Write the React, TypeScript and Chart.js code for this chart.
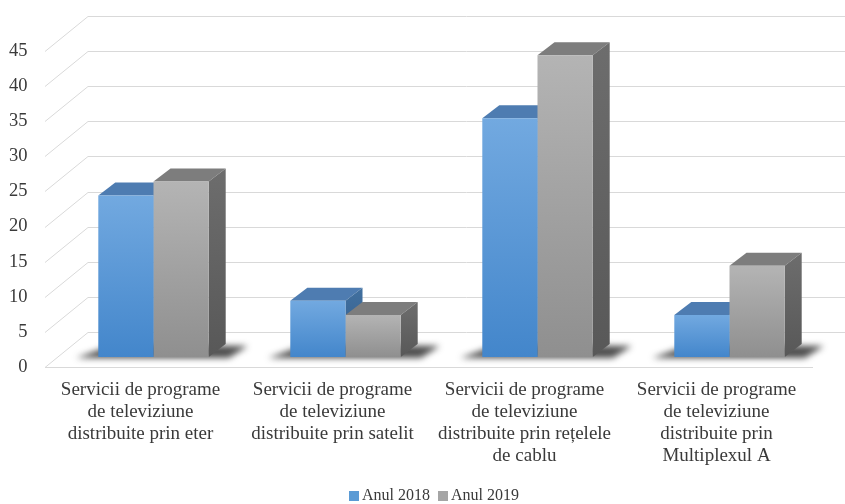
import React, { useEffect, useRef } from 'react';
import { Chart, registerables } from 'chart.js';

Chart.register(...registerables);

// ---------- data ----------
const categories: string[][] = [
  ['Servicii de programe', 'de televiziune', 'distribuite prin eter'],
  ['Servicii de programe', 'de televiziune', 'distribuite prin satelit'],
  ['Servicii de programe', 'de televiziune', 'distribuite prin rețelele', 'de cablu'],
  ['Servicii de programe', 'de televiziune', 'distribuite prin', 'Multiplexul A'],
];
const values2018 = [23, 8, 34, 6];
const values2019 = [25, 6, 43, 13];
const seriesNames = ['Anul 2018', 'Anul 2019'];
const yMin = 0;
const yMax = 45;
const yStep = 5;

// ---------- style ----------
const FONT = "'Liberation Serif', 'Times New Roman', serif";
const TEXT = '#3a3a3a';
const GRID = '#d9d9d9';

// 3D projection offsets (pixels)
const FRONT_DX = 12.5; // bar front plane relative to floor front edge
const FRONT_DY = 10;
const WALL_DX = 43; // full floor depth
const WALL_DY = 35;
const BAR_DX = 17; // bar depth
const BAR_DY = 13;

const LEGEND_CX = 434;
const LEGEND_Y = 496;

const palettes = [
  { front: ['#72a9e0', '#4386cb'], top: '#4e7cb1', side: ['#41709f', '#345c8a'], legend: '#5b9bd5' },
  { front: ['#b4b4b4', '#8f8f8f'], top: '#7d7d7d', side: ['#6d6d6d', '#585858'], legend: '#a5a5a5' },
];

const frontFill = (d: number) => (c: any) => {
  const p = palettes[d];
  if (c.type !== 'data') return p.legend;
  const chart = c.chart;
  const ys = chart.scales && chart.scales.y;
  if (!ys) return p.legend;
  const top = ys.getPixelForValue(c.raw);
  const base = ys.getPixelForValue(0);
  if (!isFinite(top) || !isFinite(base) || top === base) return p.legend;
  const g = chart.ctx.createLinearGradient(0, top, 0, base);
  g.addColorStop(0, p.front[0]);
  g.addColorStop(1, p.front[1]);
  return g;
};

const depthPlugin = {
  id: 'depth3d',
  beforeDatasetsDraw(chart: any) {
    const { ctx, chartArea, scales } = chart;
    const ys = scales.y;
    const left = chartArea.left - FRONT_DX;
    ctx.save();

    // side wall diagonals + back wall lines
    ctx.strokeStyle = GRID;
    ctx.lineWidth = 1;
    for (const t of ys.ticks) {
      const yf = Math.round(ys.getPixelForValue(t.value) + FRONT_DY) + 0.5;
      ctx.beginPath();
      ctx.moveTo(left, yf);
      ctx.lineTo(left + WALL_DX, yf - WALL_DY);
      ctx.lineTo(chart.width, yf - WALL_DY);
      ctx.stroke();
    }
    // floor front edge
    const y0 = Math.round(ys.getPixelForValue(0) + FRONT_DY) + 0.5;
    ctx.beginPath();
    ctx.moveTo(left, y0);
    ctx.lineTo(chartArea.right - FRONT_DX, y0);
    ctx.stroke();

    const metas = [chart.getDatasetMeta(0), chart.getDatasetMeta(1)];
    const n = chart.data.labels.length;

    // shadows
    ctx.filter = 'blur(3px)';
    ctx.fillStyle = 'rgba(35,35,35,0.8)';
    for (let i = 0; i < n; i++) {
      const a = metas[0].data[i].getProps(['x', 'width', 'base'], true);
      const b = metas[1].data[i].getProps(['x', 'width', 'base'], true);
      const l = a.x - a.width / 2;
      const r = b.x + b.width / 2;
      const base = a.base;
      ctx.beginPath();
      ctx.moveTo(l - 22, base + 1);
      ctx.lineTo(r + 20, base + 1);
      ctx.lineTo(r + BAR_DX + 22, base - BAR_DY + 2);
      ctx.lineTo(l + BAR_DX, base - BAR_DY);
      ctx.closePath();
      ctx.fill();
    }
    ctx.filter = 'none';

    // top and side faces
    for (let i = 0; i < n; i++) {
      for (let d = 0; d < metas.length; d++) {
        const el = metas[d].data[i].getProps(['x', 'y', 'width', 'base'], true);
        const p = palettes[d];
        const l = el.x - el.width / 2;
        const r = el.x + el.width / 2;
        const top = el.y;
        const base = el.base;
        // top face
        ctx.fillStyle = p.top;
        ctx.beginPath();
        ctx.moveTo(l, top);
        ctx.lineTo(r, top);
        ctx.lineTo(r + BAR_DX, top - BAR_DY);
        ctx.lineTo(l + BAR_DX, top - BAR_DY);
        ctx.closePath();
        ctx.fill();
        // side face
        const g = ctx.createLinearGradient(0, top - BAR_DY, 0, base);
        g.addColorStop(0, p.side[0]);
        g.addColorStop(1, p.side[1]);
        ctx.fillStyle = g;
        ctx.beginPath();
        ctx.moveTo(r, top);
        ctx.lineTo(r + BAR_DX, top - BAR_DY);
        ctx.lineTo(r + BAR_DX, base - BAR_DY);
        ctx.lineTo(r, base);
        ctx.closePath();
        ctx.fill();
      }
    }
    ctx.restore();
  },
  afterDraw(chart: any) {
    const { ctx } = chart;
    ctx.save();
    ctx.font = `16px ${FONT}`;
    ctx.textBaseline = 'middle';
    ctx.textAlign = 'left';
    const names = chart.data.datasets.map((ds: any) => ds.label);
    const widths = names.map((t: string) => ctx.measureText(t).width);
    const total = widths.reduce((s: number, w: number) => s + 13 + w, 0) + 8 * (names.length - 1);
    let x = LEGEND_CX - total / 2;
    names.forEach((t: string, k: number) => {
      ctx.fillStyle = palettes[k].legend;
      ctx.fillRect(Math.round(x), LEGEND_Y - 5, 10, 10);
      ctx.fillStyle = TEXT;
      ctx.fillText(t, x + 13, LEGEND_Y);
      x += 13 + widths[k] + 8;
    });
    ctx.restore();
  },
};

export default function App() {
  const ref = useRef<HTMLCanvasElement | null>(null);
  useEffect(() => {
    if (!ref.current) return;
    const chart = new Chart(ref.current, {
      type: 'bar',
      data: {
        labels: categories as any,
        datasets: [
          {
            label: seriesNames[0],
            data: values2018,
            backgroundColor: frontFill(0) as any,
            borderWidth: 0,
            categoryPercentage: 0.575,
            barPercentage: 1,
          },
          {
            label: seriesNames[1],
            data: values2019,
            backgroundColor: frontFill(1) as any,
            borderWidth: 0,
            categoryPercentage: 0.575,
            barPercentage: 1,
          },
        ],
      },
      options: {
        responsive: false,
        animation: false,
        layout: { padding: { top: 38.4, right: 19.5, left: 0, bottom: 0 } },
        plugins: { legend: { display: false }, tooltip: { enabled: false } },
        scales: {
          x: {
            grid: { display: false, drawTicks: false },
            border: { display: false },
            ticks: {
              autoSkip: false,
              maxRotation: 0,
              minRotation: 0,
              padding: 22,
              labelOffset: -13,
              color: TEXT,
              font: { family: FONT, size: 19, lineHeight: 1.16 },
            },
            afterFit: (s: any) => {
              s.height = 147;
            },
          },
          y: {
            min: yMin,
            max: yMax,
            ticks: {
              stepSize: yStep,
              padding: 30,
              labelOffset: 10,
              color: TEXT,
              font: { family: FONT, size: 18.5 },
            },
            grid: { display: false, drawTicks: false },
            border: { display: false },
            afterFit: (s: any) => {
              s.width = 57.5;
            },
          },
        },
      },
      plugins: [depthPlugin],
    });
    return () => chart.destroy();
  }, []);
  return (
    <div style={{ position: 'fixed', left: 0, top: 0, width: 845, height: 504, background: '#fff' }}>
      <canvas ref={ref} width={845} height={504} />
    </div>
  );
}
